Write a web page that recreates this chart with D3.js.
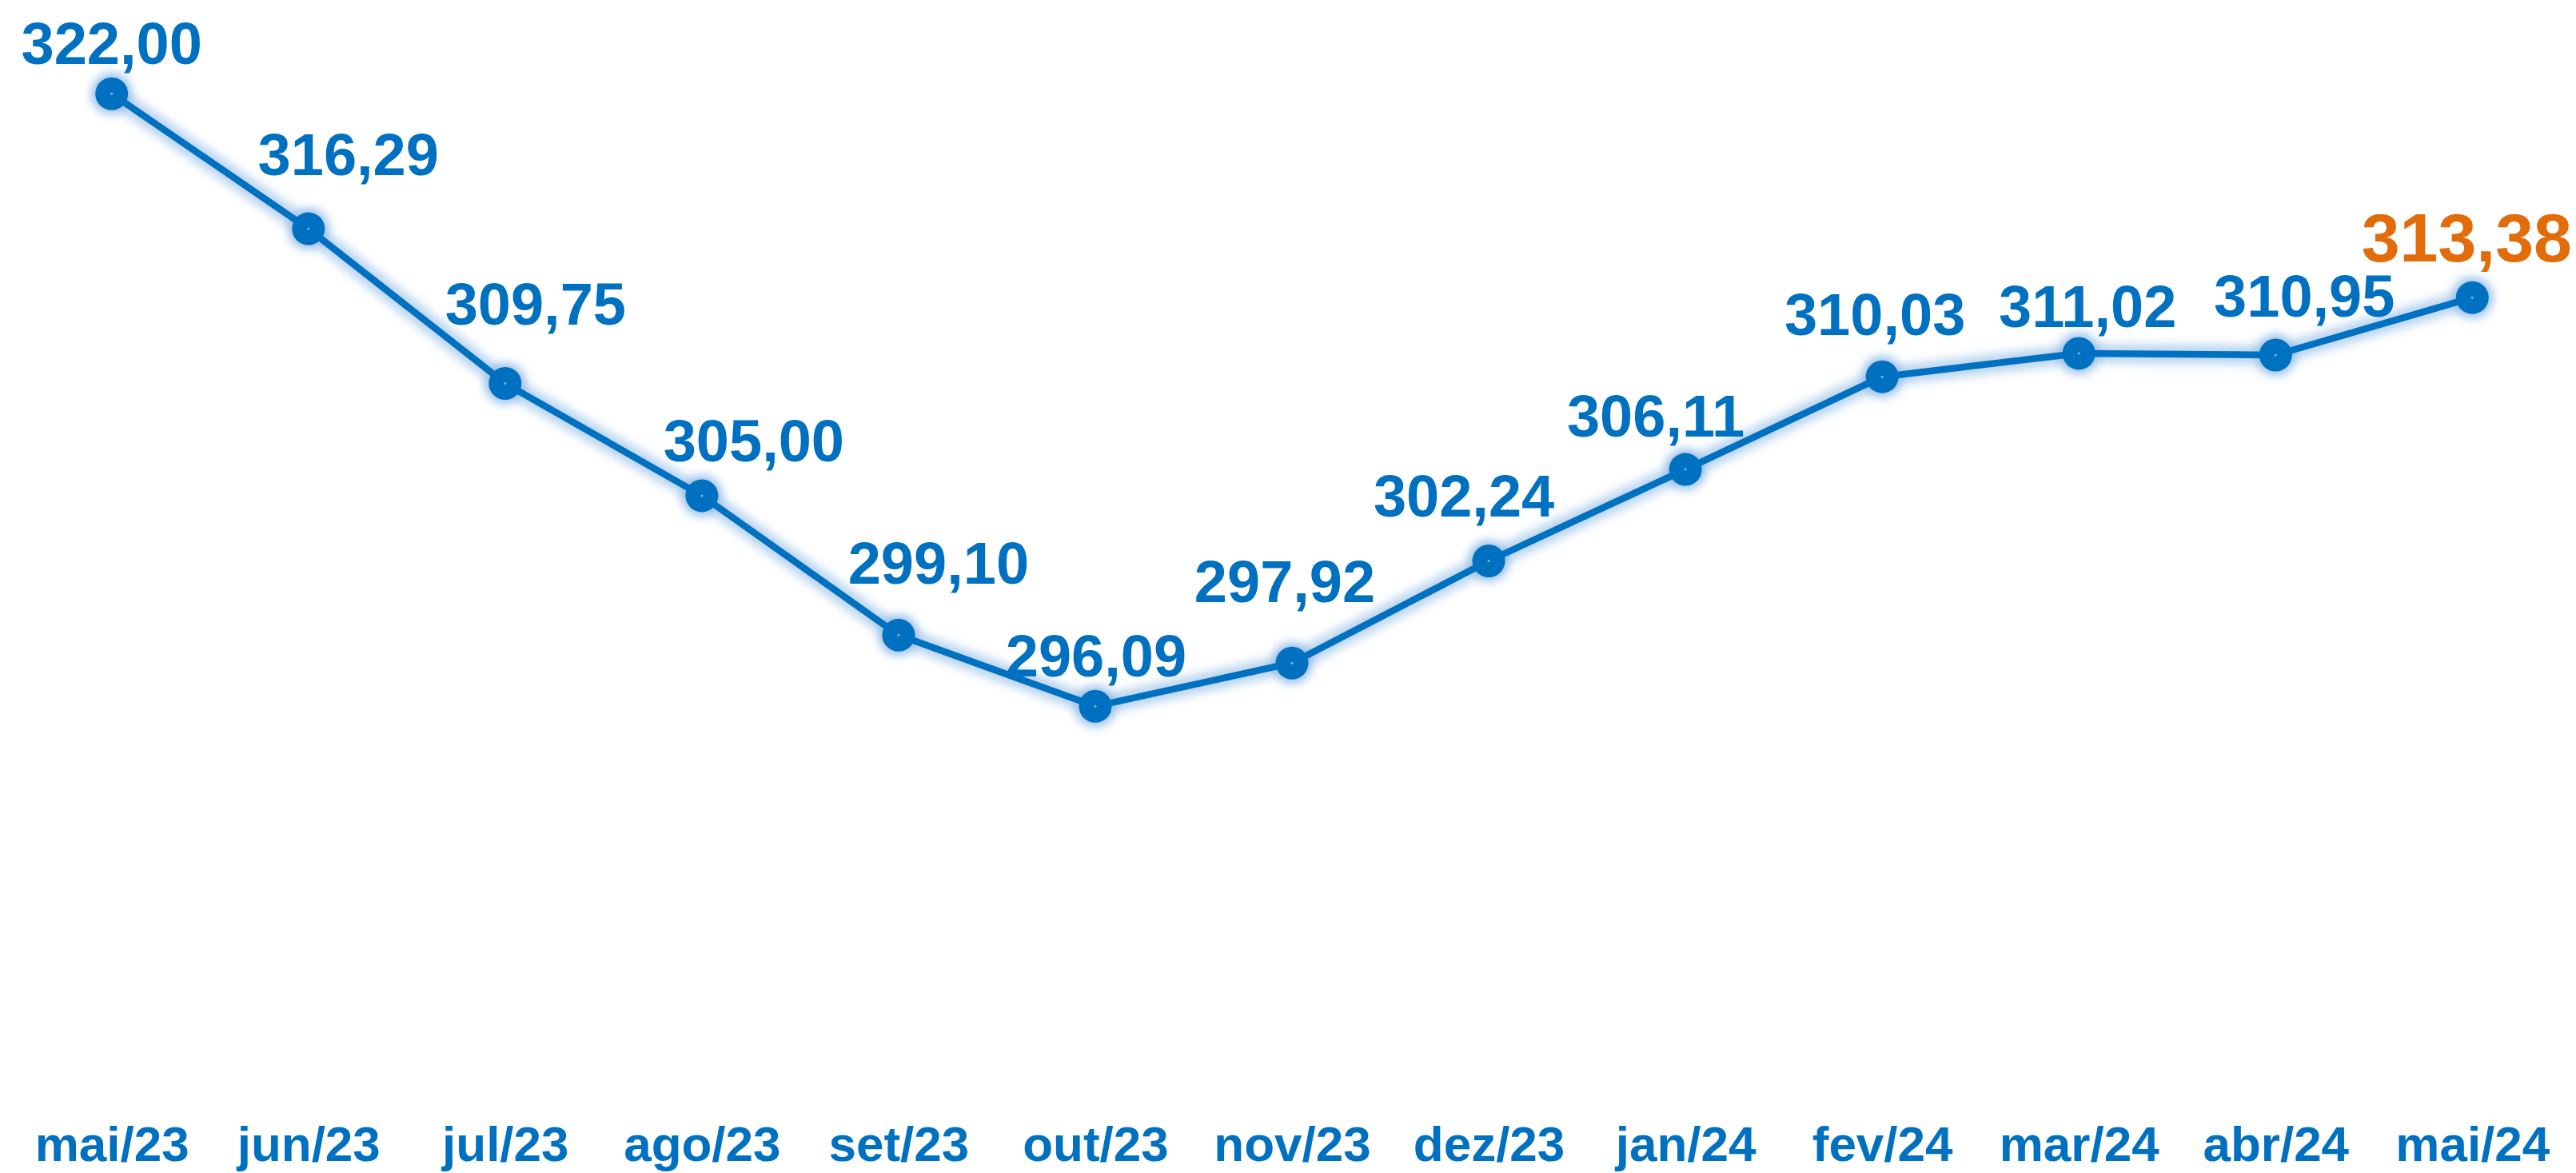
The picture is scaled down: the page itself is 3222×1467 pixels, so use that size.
<!DOCTYPE html>
<html>
<head>
<meta charset="utf-8">
<script src="https://cdn.jsdelivr.net/npm/d3@7"></script>
<style>
  html, body { margin: 0; padding: 0; background: #fff; }
  svg { display: block; }
  text { font-family: "Liberation Sans", Arial, sans-serif; font-weight: bold; }
</style>
</head>
<body>
<svg id="chart" width="3222" height="1467"></svg>
<script>
// data
const months = ["mai/23", "jun/23", "jul/23", "ago/23", "set/23", "out/23", "nov/23",
                "dez/23", "jan/24", "fev/24", "mar/24", "abr/24", "mai/24"];
const values = [322.00, 316.29, 309.75, 305.00, 299.10, 296.09, 297.92,
                302.24, 306.11, 310.03, 311.02, 310.95, 313.38];
const valueLabels = ["322,00", "316,29", "309,75", "305,00", "299,10", "296,09", "297,92",
                     "302,24", "306,11", "310,03", "311,02", "310,95", "313,38"];

// label nudges (px) - labels were placed by hand in the original
const labelDx = [0, 50, 38, 65, 50, 1, -9, -31, -37, -9, 11, 36, -7];
const labelDy = [-37, -67, -73, -43, -64, -37, -76, -55, -41, -52, -33, -48, -45];

const blue = "#0070C0";
const orange = "#E36C0A";

var svg = d3.select("#chart");

var x = d3.scalePoint().domain(months).range([139.7, 3092.3]);
var y = d3.scaleLinear().domain([280, 325]).range([1359, 28.6]);

var defs = svg.append("defs");
var glow = defs.append("filter").attr("id", "glow")
  .attr("x", "-10%").attr("y", "-10%").attr("width", "120%").attr("height", "120%");
glow.append("feGaussianBlur").attr("stdDeviation", 6);

var pts = months.map((m, i) => ({m: m, v: values[i], lab: valueLabels[i], i: i}));

var line = d3.line().x(d => x(d.m)).y(d => y(d.v));

// soft glow behind line and markers
var halo = svg.append("g").attr("filter", "url(#glow)");
halo.append("path")
  .datum(pts)
  .attr("d", line)
  .attr("fill", "none")
  .attr("stroke", "#A9CBEC")
  .attr("stroke-width", 24)
  .attr("stroke-opacity", 0.8);
halo.selectAll("circle")
  .data(pts)
  .enter()
  .append("circle")
  .attr("cx", d => x(d.m))
  .attr("cy", d => y(d.v))
  .attr("r", 26)
  .attr("fill", "#8DB9E6")
  .attr("fill-opacity", 0.85);

svg.append("path")
  .datum(pts)
  .attr("d", line)
  .attr("fill", "none")
  .attr("stroke", blue)
  .attr("stroke-width", 8.5)
  .attr("stroke-linejoin", "round");

svg.selectAll(".marker")
  .data(pts)
  .enter()
  .append("circle")
  .attr("class", "marker")
  .attr("cx", d => x(d.m))
  .attr("cy", d => y(d.v))
  .attr("r", 20.5)
  .attr("fill", blue);

svg.selectAll(".dot")
  .data(pts)
  .enter()
  .append("circle")
  .attr("class", "dot")
  .attr("cx", d => x(d.m))
  .attr("cy", d => y(d.v))
  .attr("r", 1.5)
  .attr("fill", "#8FB3D9");

// value labels
svg.selectAll(".vlabel")
  .data(pts)
  .enter()
  .append("text")
  .attr("class", "vlabel")
  .attr("x", d => x(d.m) + labelDx[d.i])
  .attr("y", d => y(d.v) + labelDy[d.i])
  .attr("text-anchor", "middle")
  .attr("font-size", d => d.i == pts.length - 1 ? 86 : 74)
  .attr("fill", d => d.i == pts.length - 1 ? orange : blue)
  .text(d => d.lab);

// x axis labels (no axis line)
var xAxis = svg.append("g")
  .attr("transform", "translate(0,1452)")
  .call(d3.axisBottom(x).tickSize(0).tickPadding(0));
xAxis.select(".domain").remove();
xAxis.selectAll("text")
  .attr("dy", 0)
  .attr("y", 0)
  .attr("font-size", 62)
  .attr("font-family", "'Liberation Sans', Arial, sans-serif")
  .attr("font-weight", "bold")
  .attr("fill", blue);
</script>
</body>
</html>
